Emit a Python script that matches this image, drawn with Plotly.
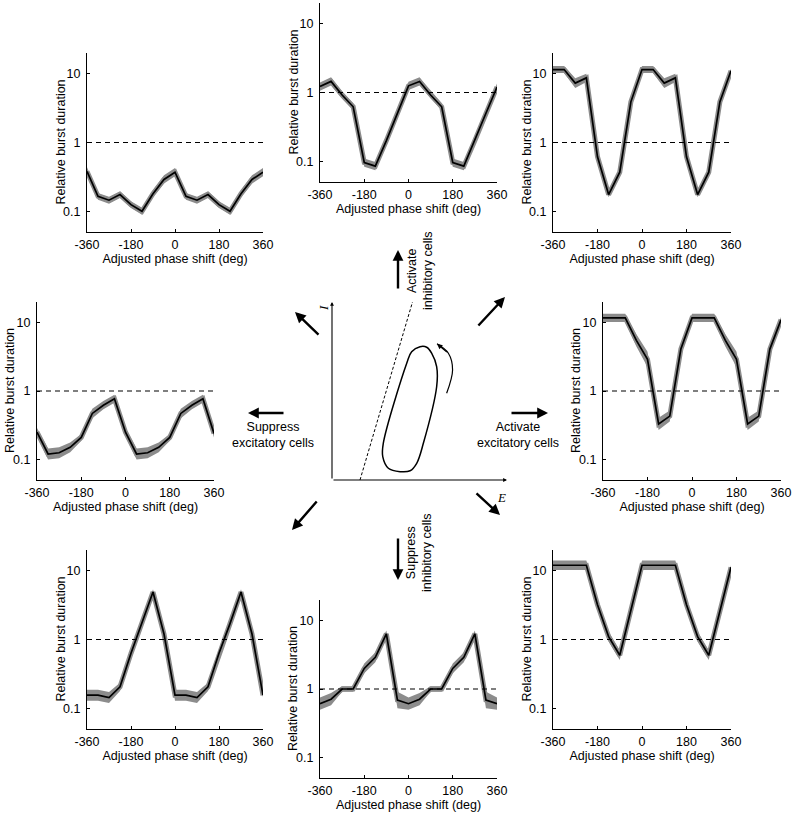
import math
import plotly.graph_objects as go

W, H = 800, 818

# ---------------- data ----------------
PHASE = [-360, -315, -270, -225, -180, -135, -90, -45, 0, 45, 90, 135, 180, 225, 270, 315, 360]
X_TICKS = [-360, -180, 0, 180, 360]
X_TICK_TEXT = ["-360", "-180", "0", "180", "360"]
Y_TICKS = [0.1, 1, 10]
Y_TICK_TEXT = ["0.1", "1", "10"]
REF_LEVEL = 1.0
X_TITLE = "Adjusted phase shift (deg)"
Y_TITLE = "Relative burst duration"

# relative burst duration (mean) per panel
top_left = [0.38, 0.165, 0.145, 0.175, 0.125, 0.10, 0.18, 0.29, 0.37, 0.165, 0.145, 0.175, 0.125, 0.10, 0.18, 0.29, 0.37]
top_mid = [1.22, 1.45, 0.92, 0.62, 0.096, 0.085, 0.2, 0.5, 1.25, 1.45, 0.92, 0.62, 0.096, 0.085, 0.2, 0.5, 1.2]
top_right = [11.5, 11.5, 7.3, 8.7, 0.62, 0.175, 0.37, 3.9, 11.5, 11.5, 7.3, 8.7, 0.62, 0.175, 0.37, 3.9, 11.0]
mid_left = [0.25, 0.12, 0.125, 0.15, 0.21, 0.47, 0.62, 0.77, 0.25, 0.12, 0.125, 0.15, 0.21, 0.47, 0.62, 0.77, 0.24]
mid_right = [11.7, 11.7, 11.7, 5.5, 2.9, 0.33, 0.43, 4.1, 11.7, 11.7, 11.7, 5.5, 2.9, 0.33, 0.43, 4.1, 11.0]
bot_left = [0.155, 0.155, 0.143, 0.205, 0.63, 1.7, 4.9, 1.2, 0.155, 0.155, 0.143, 0.205, 0.63, 1.7, 4.9, 1.2, 0.155]
bot_mid = [0.61, 0.71, 1.0, 1.0, 2.0, 2.9, 6.4, 0.69, 0.61, 0.71, 1.0, 1.0, 2.0, 2.9, 6.4, 0.69, 0.61]
bot_right = [12, 12, 12, 12, 3.2, 1.1, 0.59, 2.7, 12, 12, 12, 12, 3.2, 1.1, 0.59, 2.7, 11.2]

# half-width of the shaded band (log10 units)
hw_top_left = [0.06, 0.05, 0.05, 0.05, 0.05, 0.05, 0.05, 0.06, 0.06, 0.05, 0.05, 0.05, 0.05, 0.05, 0.05, 0.06, 0.06]
hw_top_mid = [0.06, 0.06, 0.05, 0.05, 0.06, 0.06, 0.04, 0.03, 0.06, 0.06, 0.05, 0.05, 0.06, 0.06, 0.04, 0.03, 0.05]
hw_top_right = [0.05, 0.05, 0.07, 0.06, 0.03, 0.04, 0.03, 0.03, 0.05, 0.05, 0.07, 0.06, 0.03, 0.04, 0.03, 0.03, 0.03]
hw_mid_left = [0.06, 0.08, 0.08, 0.07, 0.05, 0.07, 0.06, 0.06, 0.06, 0.08, 0.08, 0.07, 0.05, 0.07, 0.06, 0.06, 0.06]
hw_mid_right = [0.06, 0.06, 0.06, 0.09, 0.11, 0.09, 0.08, 0.04, 0.06, 0.06, 0.06, 0.09, 0.11, 0.09, 0.08, 0.04, 0.04]
hw_bot_left = [0.08, 0.08, 0.08, 0.06, 0.04, 0.03, 0.04, 0.03, 0.08, 0.08, 0.08, 0.06, 0.04, 0.03, 0.04, 0.03, 0.03]
hw_bot_mid = [0.09, 0.09, 0.04, 0.04, 0.07, 0.07, 0.05, 0.12, 0.09, 0.09, 0.04, 0.04, 0.07, 0.07, 0.05, 0.12, 0.09]
hw_bot_right = [0.07, 0.07, 0.07, 0.07, 0.06, 0.07, 0.07, 0.03, 0.07, 0.07, 0.07, 0.07, 0.06, 0.07, 0.07, 0.03, 0.03]

# limit cycle in the E-I plane (schematic)
cycle_E = [0.503, 0.455, 0.427, 0.293, 0.290, 0.322, 0.389, 0.446, 0.484, 0.522, 0.598, 0.598, 0.570, 0.541, 0.503]
cycle_I = [0.749, 0.721, 0.656, 0.206, 0.131, 0.066, 0.047, 0.052, 0.094, 0.206, 0.524, 0.637, 0.712, 0.746, 0.749]
nullcline_E = [0.16, 0.463]
nullcline_I = [0.0, 1.01]
flow_E = [0.655, 0.689, 0.665, 0.600]
flow_I = [0.487, 0.618, 0.712, 0.765]

# ---------------- layout helpers ----------------
FONT = "Liberation Sans, Arial, sans-serif"
FS = 12.5
BAND = "#8c8c8c"


def dx(a, b):
    return [a / W, b / W]


def dy(top, bottom):
    return [1 - bottom / H, 1 - top / H]


panels = [
    (top_left, hw_top_left, 87, 263, 53, 232),
    (top_mid, hw_top_mid, 320, 497, 3, 182),
    (top_right, hw_top_right, 553, 731, 53, 232),
    (mid_left, hw_mid_left, 37, 214, 302, 480),
    (mid_right, hw_mid_right, 603, 781, 302, 480),
    (bot_left, hw_bot_left, 87, 263, 550, 729),
    (bot_mid, hw_bot_mid, 320, 497, 600, 778),
    (bot_right, hw_bot_right, 553, 731, 550, 729),
]

fig = go.Figure()
layout = dict(
    width=W, height=H, autosize=False,
    margin=dict(l=0, r=0, t=0, b=0),
    paper_bgcolor="white", plot_bgcolor="rgba(0,0,0,0)",
    showlegend=False,
    font=dict(family=FONT, size=FS, color="black"),
)
ann = []

for i, (vals, hw, x0, x1, t, b) in enumerate(panels, start=1):
    xa = "x" if i == 1 else f"x{i}"
    ya = "y" if i == 1 else f"y{i}"
    lo = [v * 10 ** (-h) for v, h in zip(vals, hw)]
    hi = [v * 10 ** (h) for v, h in zip(vals, hw)]
    fig.add_trace(go.Scatter(x=PHASE, y=lo, mode="lines", line=dict(width=0, color=BAND),
                             xaxis=xa, yaxis=ya, hoverinfo="skip"))
    fig.add_trace(go.Scatter(x=PHASE, y=hi, mode="lines", line=dict(width=0, color=BAND),
                             fill="tonexty", fillcolor=BAND, xaxis=xa, yaxis=ya, hoverinfo="skip"))
    # grey halo so the band stays visible on steep segments
    fig.add_trace(go.Scatter(x=PHASE, y=vals, mode="lines", line=dict(color=BAND, width=5),
                             xaxis=xa, yaxis=ya, hoverinfo="skip"))
    fig.add_trace(go.Scatter(x=[PHASE[0], PHASE[-1]], y=[REF_LEVEL, REF_LEVEL], mode="lines",
                             line=dict(color="black", width=1.2, dash="5px,4px"),
                             xaxis=xa, yaxis=ya, hoverinfo="skip"))
    fig.add_trace(go.Scatter(x=PHASE, y=vals, mode="lines", line=dict(color="black", width=1.7),
                             xaxis=xa, yaxis=ya))
    xkey = "xaxis" if i == 1 else f"xaxis{i}"
    ykey = "yaxis" if i == 1 else f"yaxis{i}"
    layout[xkey] = dict(
        domain=dx(x0, x1), anchor=ya, range=[-360, 360],
        tickvals=X_TICKS, ticktext=X_TICK_TEXT, ticks="inside", ticklen=3, tickcolor="black",
        showline=True, linecolor="black", linewidth=1.2, showgrid=False, zeroline=False,
        tickfont=dict(size=FS), ticklabelstandoff=1,
        title=dict(text=X_TITLE, standoff=2, font=dict(size=FS)),
        automargin=False,
    )
    layout[ykey] = dict(
        domain=dy(t, b), anchor=xa, type="log", range=[math.log10(0.05), math.log10(20)],
        tickvals=Y_TICKS, ticktext=Y_TICK_TEXT, ticks="inside", ticklen=3, tickcolor="black",
        showline=True, linecolor="black", linewidth=1.2, showgrid=False, zeroline=False,
        tickfont=dict(size=FS), ticklabelstandoff=3,
        automargin=False,
    )
    # y-axis title placed close to the axis, as in the original figure
    ann.append(dict(x=(x0 - 27) / W, y=1 - (t + b) / 2 / H, xref="paper", yref="paper",
                    text=Y_TITLE, showarrow=False, textangle=-90,
                    xanchor="center", yanchor="middle", font=dict(size=FS, family=FONT)))

# ---------------- central phase-plane diagram ----------------
fig.add_trace(go.Scatter(x=nullcline_E, y=nullcline_I, mode="lines",
                         line=dict(color="black", width=1, dash="3px,2px"),
                         xaxis="x9", yaxis="y9", hoverinfo="skip"))
fig.add_trace(go.Scatter(x=cycle_E, y=cycle_I, mode="lines",
                         line=dict(color="black", width=1.5, shape="spline", smoothing=1.0),
                         xaxis="x9", yaxis="y9", hoverinfo="skip"))
fig.add_trace(go.Scatter(x=flow_E, y=flow_I, mode="lines",
                         line=dict(color="black", width=1.2, shape="spline", smoothing=1.0),
                         xaxis="x9", yaxis="y9", hoverinfo="skip"))
layout["xaxis9"] = dict(domain=dx(332, 507), anchor="y9", range=[0, 1], visible=False)
layout["yaxis9"] = dict(domain=dy(302, 480), anchor="x9", range=[0, 1], visible=False)

# E and I axes with arrowheads
ann.append(dict(x=1, y=0, ax=0, ay=0, xref="x9", yref="y9", axref="x9", ayref="y9",
                showarrow=True, arrowhead=2, arrowsize=0.7, arrowwidth=1.1, arrowcolor="black", text=""))
ann.append(dict(x=0, y=1, ax=0, ay=0, xref="x9", yref="y9", axref="x9", ayref="y9",
                showarrow=True, arrowhead=2, arrowsize=0.7, arrowwidth=1.1, arrowcolor="black", text=""))
# flow direction arrowhead
ann.append(dict(x=flow_E[-1], y=flow_I[-1], ax=flow_E[-2], ay=flow_I[-2], xref="x9", yref="y9",
                axref="x9", ayref="y9", showarrow=True, arrowhead=2, arrowsize=0.9, arrowwidth=1.2,
                arrowcolor="black", text="", standoff=0))
ann.append(dict(x=323 / W, y=1 - 308 / H, xref="paper", yref="paper", text="<i>I</i>", showarrow=False,
                xanchor="center", yanchor="middle", textangle=-90,
                font=dict(family="Liberation Serif, Times New Roman, serif", size=13)))
ann.append(dict(x=502 / W, y=1 - 497 / H, xref="paper", yref="paper", text="<i>E</i>", showarrow=False,
                xanchor="center", yanchor="middle",
                font=dict(family="Liberation Serif, Times New Roman, serif", size=13)))

# big direction arrows (head position, tail offset in pixels)
arrows = [
    (398, 250, 0, 40),
    (398, 580, 0, -43),
    (248, 413, 37, 0),
    (548, 413, -38, 0),
    (295, 312, 25, 24),
    (505, 297, -28, 30),
    (292, 530, 26, -30),
    (500, 515, -25, -23),
]
for hx, hy, ox, oy in arrows:
    ann.append(dict(x=hx / W, y=1 - hy / H, xref="paper", yref="paper", ax=ox, ay=oy,
                    axref="pixel", ayref="pixel", showarrow=True, arrowhead=2, arrowsize=0.9,
                    arrowwidth=2.4, arrowcolor="black", text="", standoff=0))

labels = [
    ("Activate<br>inhibitory cells", 420, 271, -90),
    ("Suppress<br>inhibitory cells", 419, 553, -90),
    ("Suppress<br>excitatory cells", 273, 435, 0),
    ("Activate<br>excitatory cells", 518, 435, 0),
]
for txt, cx, cy, ang in labels:
    ann.append(dict(x=cx / W, y=1 - cy / H, xref="paper", yref="paper", text=txt, showarrow=False,
                    xanchor="center", yanchor="middle",
                    textangle=ang, align="center", font=dict(size=FS, family=FONT)))

layout["annotations"] = ann
fig.update_layout(**layout)
fig.write_html("out.html", config={"displayModeBar": False},
               post_script="document.body.style.margin='0';document.body.style.overflow='hidden';")
